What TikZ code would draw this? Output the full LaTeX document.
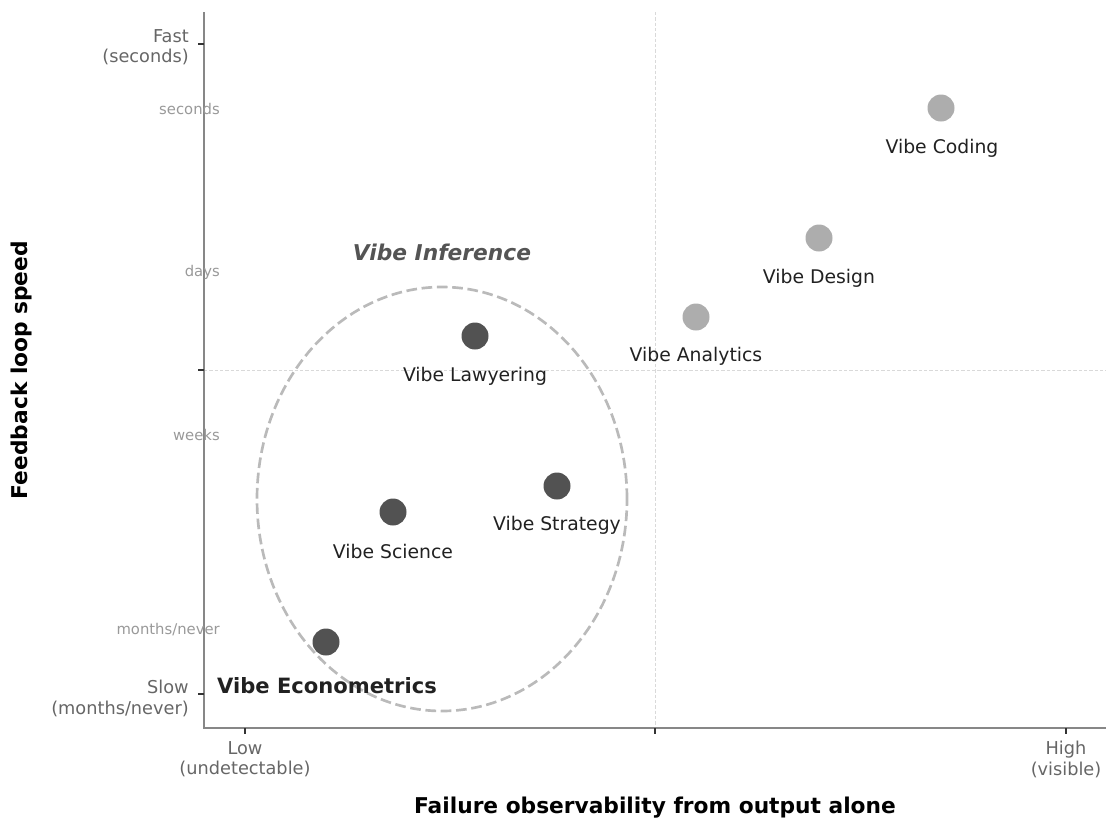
\documentclass[tikz,border=0pt]{standalone}
\usepackage{fontspec}
\setmainfont{DejaVu Sans}
\usetikzlibrary{shapes.geometric}
\begin{document}
\begin{tikzpicture}[x=0.75pt,y=-0.75pt,
  spine/.style={draw=black!47,line width=1.1pt},
  tickmark/.style={draw=black!80,line width=0.9pt},
  gridline/.style={draw=black!15,line width=0.5pt,dash pattern=on 2.5pt off 1.5pt},
  ticklab/.style={text=black!60,font=\fontsize{13.3}{15.2}\selectfont,align=right,inner sep=0pt},
  xticklab/.style={text=black!60,font=\fontsize{13.3}{15.2}\selectfont,align=center,inner sep=0pt},
  smalllab/.style={text=black!40,font=\fontsize{11.1}{13}\selectfont,inner sep=0pt,anchor=east},
  axlab/.style={text=black,font=\fontsize{16.3}{19}\selectfont\bfseries,inner sep=0pt},
  darkdot/.style={circle,fill=black!68,minimum size=27*0.75pt,inner sep=0pt},
  lightdot/.style={circle,fill=black!32,minimum size=27*0.75pt,inner sep=0pt},
  ptlab/.style={text=black!87,font=\fontsize{14.1}{16}\selectfont,inner sep=0pt}
]
\useasboundingbox (0,0) rectangle (1110,825);
% grid
\coordinate (gv1) at (655,12);
\coordinate (gv2) at (655,728);
\coordinate (gh1) at (204,370);
\coordinate (gh2) at (1106,370);
\draw[gridline] (gv1) -- (gv2);
\draw[gridline] (gh1) -- (gh2);
% spines
\coordinate (otop) at (204,12);
\coordinate (o) at (204,728);
\coordinate (oright) at (1106,728);
\draw[spine] (otop) -- (o) -- (oright);
% y ticks
\foreach \yy/\nm in {44/yt1,370/yt2,694/yt3}{
  \coordinate (\nm a) at (198,\yy);
  \coordinate (\nm b) at (204,\yy);
  \draw[tickmark] (\nm a) -- (\nm b);
}
% x ticks
\foreach \xx/\nm in {245/xt1,655/xt2,1066/xt3}{
  \coordinate (\nm a) at (\xx,728);
  \coordinate (\nm b) at (\xx,734);
  \draw[tickmark] (\nm a) -- (\nm b);
}
% tick labels
\node[ticklab,anchor=east] (fast) at (189,47.5) {Fast\\(seconds)};
\node[ticklab,anchor=east] (slow) at (189,698.5) {Slow\\(months/never)};
\node[xticklab,anchor=north] (low) at (245,741) {Low\\(undetectable)};
\node[xticklab,anchor=north] (high) at (1066,741) {High\\(visible)};
% small gray labels
\node[smalllab] (s1) at (220,109) {seconds};
\node[smalllab] (s2) at (220,272) {days};
\node[smalllab] (s3) at (220,435) {weeks};
\node[smalllab] (s4) at (220,630) {months/never};
% axis labels
\node[axlab] (xlab) at (655,808) {Failure observability from output alone};
\node[axlab,rotate=90] (ylab) at (22,370) {Feedback loop speed};
% ellipse
\node[draw=black!27,line width=2pt,dash pattern=on 8pt off 3.5pt,ellipse,minimum width=370*0.75pt,minimum height=424*0.75pt,inner sep=0pt] (inf) at (442,499) {};
\node[text=black!67,font=\fontsize{16.3}{19}\selectfont\bfseries\itshape,inner sep=0pt] (inflab) at (442,252) {Vibe Inference};
% points
\node[lightdot] (coding) at (941,108) {};
\node[ptlab] (codinglab) at (942,148) {Vibe Coding};
\node[lightdot] (design) at (819,238) {};
\node[ptlab] (designlab) at (819,278) {Vibe Design};
\node[lightdot] (analytics) at (696,317) {};
\node[ptlab] (analyticslab) at (696,356) {Vibe Analytics};
\node[darkdot] (lawyering) at (475,336) {};
\node[ptlab] (lawyeringlab) at (475,376) {Vibe Lawyering};
\node[darkdot] (strategy) at (557,486) {};
\node[ptlab] (strategylab) at (557,525) {Vibe Strategy};
\node[darkdot] (science) at (393,512) {};
\node[ptlab] (sciencelab) at (393,551) {Vibe Science};
\node[darkdot] (econ) at (326,642) {};
\node[text=black!87,font=\fontsize{15.8}{18}\selectfont\bfseries,inner sep=0pt] (econlab) at (327,686) {Vibe Econometrics};
\end{tikzpicture}
\end{document}
